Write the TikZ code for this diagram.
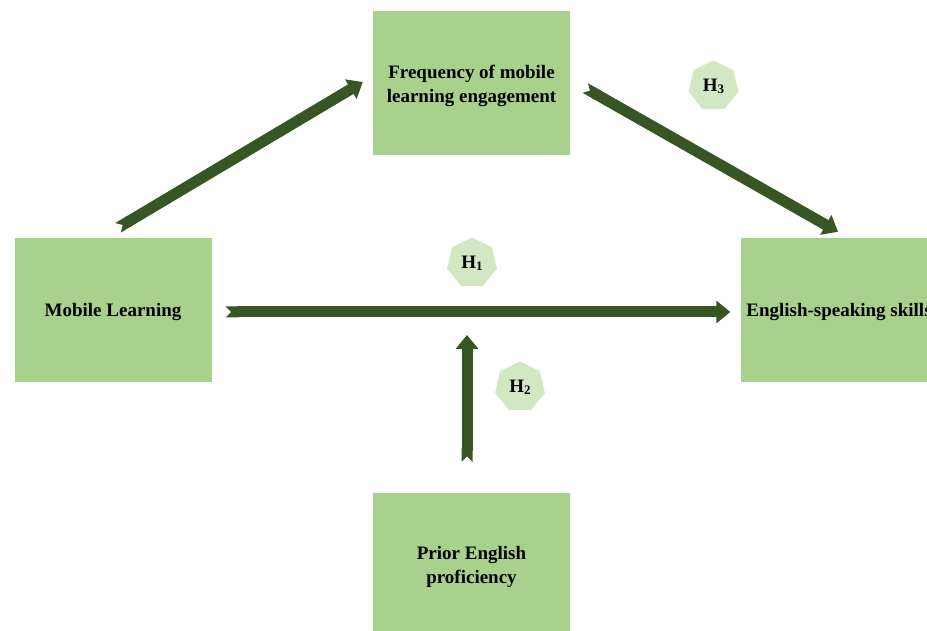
\documentclass[tikz,border=0pt]{standalone}
\usepackage{fontspec}
\setmainfont{Liberation Serif}
\usetikzlibrary{arrows.meta,shapes.geometric}
\definecolor{boxgreen}{HTML}{A9D18E}
\definecolor{heptgreen}{HTML}{D1E8C3}
\definecolor{arrowgreen}{HTML}{375623}
\newcommand{\hyp}[1]{H\raisebox{-0.25ex}{\fontsize{13}{13}\selectfont #1}}

\begin{document}
\begin{tikzpicture}[x=1pt, y=1pt,
    box/.style={fill=boxgreen, minimum width=197pt, minimum height=144pt, inner sep=0pt,
        text depth=0pt, align=center, font=\fontsize{19}{24}\selectfont\bfseries},
    hepta/.style={regular polygon, regular polygon sides=7, fill=heptgreen,
        minimum size=51pt, inner sep=0pt, font=\fontsize{19}{20}\selectfont\bfseries},
    bigarrow/.style={draw=arrowgreen, line width=11pt,
        {Triangle Cap[reversed]}-{Triangle[length=14pt, width=22pt]}}]
    \useasboundingbox (0,0) rectangle (927,630);

    % 1. the four boxes
    \node[box] (freq) at (471.5,546.5) {Frequency of mobile\\learning engagement};
    \node[box] (ml) at (113,320) {Mobile Learning};
    \node[box] (es) at (839,320) {English-speaking skills};
    \node[box] (prior) at (471.5,65) {Prior English\\proficiency};

    % 2. hypothesis labels
    \node[hepta] (h3) at (713.5,544) {\hyp{3}};
    \node[hepta] (h1) at (472,367) {\hyp{1}};
    \node[hepta] (h2) at (520,243) {\hyp{2}};

    % 3. arrows
    \coordinate (h2tip) at (467,295);
    \draw[bigarrow] ([shift={(5pt,10pt)}]ml.north) -- ([shift={(-10pt,1.5pt)}]freq.west);
    \draw[bigarrow] ([shift={(15pt,-4.5pt)}]freq.east) -- ([shift={(-1pt,6pt)}]es.north);
    \draw[bigarrow, shorten <=14pt, shorten >=10pt] ([yshift=-2pt]ml.east) -- ([yshift=-2pt]es.west);
    \draw[bigarrow, shorten <=31pt] (prior.north -| h2tip) -- (h2tip);
\end{tikzpicture}
\end{document}
